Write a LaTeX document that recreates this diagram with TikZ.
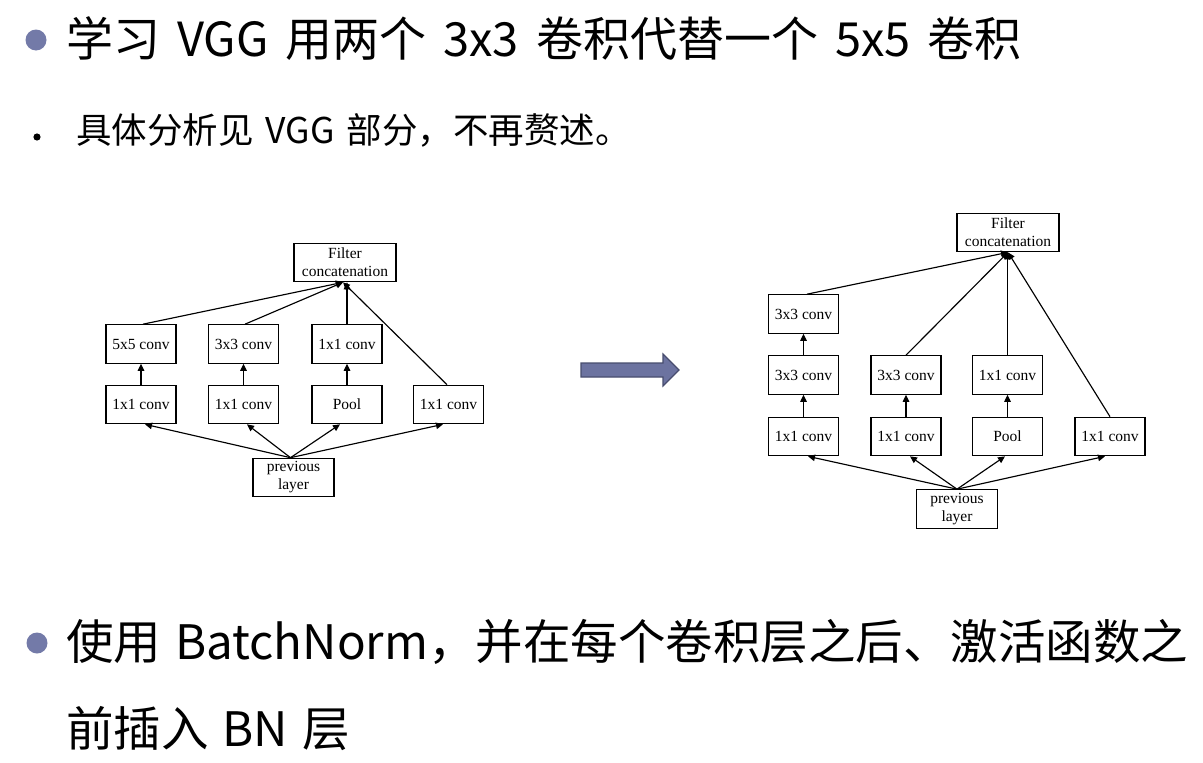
\documentclass[tikz,border=0pt]{standalone}
\usepackage{fontspec}
\setmainfont{Noto Sans CJK SC}
\newfontfamily\diagfont{Liberation Serif}
\usetikzlibrary{arrows.meta,calc}
\definecolor{bulletblue}{RGB}{115,122,168}
\definecolor{arrowfill}{RGB}{108,115,160}
\definecolor{arrowedge}{RGB}{72,77,110}
\newcommand\mytitlefont{\fontsize{47}{47}\selectfont\spaceskip=17pt\relax}
\newcommand\mymidfont{\fontsize{35.5}{35.5}\selectfont\spaceskip=12pt\relax}
\newcommand\mylowfont{\fontsize{47.5}{47.5}\selectfont\spaceskip=14pt\relax}
\tikzset{
  box/.style={draw=black, line width=1.15pt, minimum width=70pt, minimum height=38.5pt,
    inner sep=0pt, font=\diagfont\fontsize{15.5}{18}\selectfont, align=center},
  wide/.style={box, minimum width=102pt},
  prev/.style={box, minimum width=81pt},
  conn/.style={line width=1.15pt, -{Triangle[length=7pt,width=6.5pt]}},
  bigtext/.style={anchor=base west, inner sep=0pt, font=\mytitlefont},
  midtext/.style={anchor=base west, inner sep=0pt, font=\mymidfont},
  lowtext/.style={anchor=base west, inner sep=0pt, font=\mylowfont},
}
\begin{document}
\begin{tikzpicture}[x=1pt,y=-1pt]
\useasboundingbox (0,0) rectangle (1203,763);
\fill[white] (0,0) rectangle (1203,763);

% bullets and text
\fill[bulletblue] (36,40) circle (10.5);
\node[bigtext] (t1) at (66,56.5) {学习 VGG 用两个 3x3 卷积代替一个 5x5 卷积};
\fill[black] (37,137) circle (3.6);
\node[midtext] (t2) at (76,143.5) {具体分析见 VGG 部分，不再赘述。};
\fill[bulletblue] (37,643) circle (10.5);
\node[lowtext] (t3) at (66,659.5) {使用 BatchNorm，并在每个卷积层之后、激活函数之};
\node[lowtext] (t4) at (66,746.5) {前插入 BN 层};

% left diagram
\node[wide] (F1) at (345,262.5) {Filter\\concatenation};
\node[box] (a1) at (141,344) {5x5 conv};
\node[box] (a2) at (243.5,344) {3x3 conv};
\node[box] (a3) at (347,344) {1x1 conv};
\node[box] (b1) at (141,404.5) {1x1 conv};
\node[box] (b2) at (243.5,404.5) {1x1 conv};
\node[box] (b3) at (347,404.5) {Pool};
\node[box] (b4) at (448.5,404.5) {1x1 conv};
\node[prev] (P1) at (293.5,477.5) {previous\\layer};

\draw[conn] ($(P1.north)+(-3,0)$) -- ($(b1.south)+(4,0)$);
\draw[conn] ($(P1.north)+(-3,0)$) -- ($(b2.south)+(3.5,0)$);
\draw[conn] ($(P1.north)+(-3,0)$) -- ($(b3.south)+(-7,0)$);
\draw[conn] ($(P1.north)+(-3,0)$) -- ($(b4.south)+(-5.5,0)$);
\draw[conn] (b1) -- (a1);
\draw[conn] (b2) -- (a2);
\draw[conn] (b3) -- (a3);
\draw[conn] ($(a1.north)+(2,0)$) -- ($(F1.south)+(-2,0)$);
\draw[conn] ($(a2.north)+(1.5,0)$) -- ($(F1.south)+(-2,0)$);
\draw[conn] (a3.north) -- (a3.north |- F1.south);
\draw[conn] ($(b4.north)+(-1.5,0)$) -- ($(F1.south)+(-2,0)$);

% big arrow
\filldraw[fill=arrowfill, draw=arrowedge, line width=1.2pt, line join=miter]
  (581,363) -- (663,363) -- (663,354) -- (679,370) -- (663,386) -- (663,377) -- (581,377) -- cycle;

% right diagram
\node[wide] (F2) at (1008,232.5) {Filter\\concatenation};
\node[box] (c1) at (803.5,314) {3x3 conv};
\node[box] (m1) at (803.5,375) {3x3 conv};
\node[box] (m2) at (906,375) {3x3 conv};
\node[box] (m3) at (1007.5,375) {1x1 conv};
\node[box] (d1) at (803.5,436.5) {1x1 conv};
\node[box] (d2) at (906,436.5) {1x1 conv};
\node[box] (d3) at (1007.5,436.5) {Pool};
\node[box] (d4) at (1110,436.5) {1x1 conv};
\node[prev] (P2) at (957,509) {previous\\layer};

\draw[conn] (P2.north) -- ($(d1.south)+(4.5,0)$);
\draw[conn] (P2.north) -- ($(d2.south)+(4,0)$);
\draw[conn] (P2.north) -- ($(d3.south)+(-2.5,0)$);
\draw[conn] (P2.north) -- ($(d4.south)+(-5,0)$);
\draw[conn] (m1) -- (c1);
\draw[conn] (d1) -- (m1);
\draw[conn] (d2) -- (m2);
\draw[conn] (d3) -- (m3);
\draw[conn] ($(c1.north)+(3.5,0)$) -- (F2.south);
\draw[conn] (m2.north) -- (F2.south);
\draw[conn] (m3.north) -- (m3.north |- F2.south);
\draw[conn] (d4.north) -- (F2.south);
\end{tikzpicture}
\end{document}
